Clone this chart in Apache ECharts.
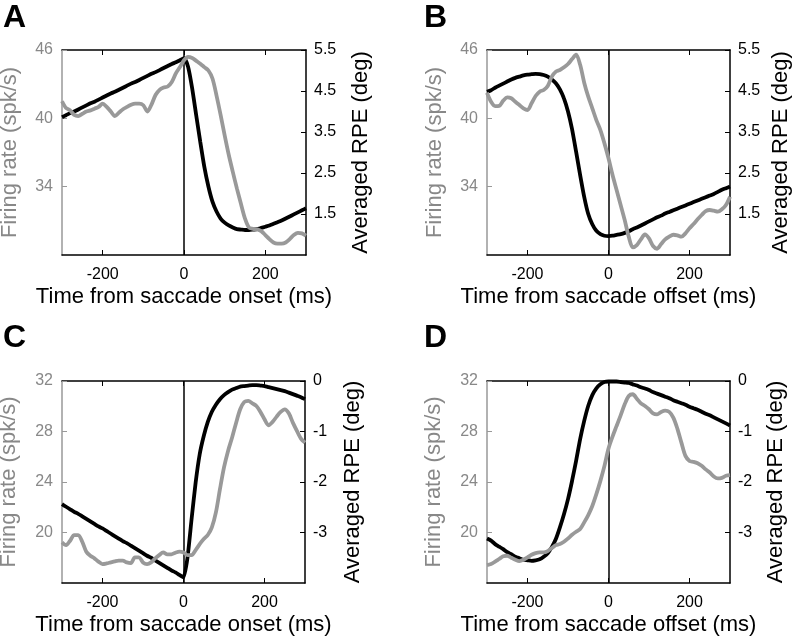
<!DOCTYPE html>
<html><head><meta charset="utf-8">
<script src="https://cdn.jsdelivr.net/npm/echarts@6/dist/echarts.min.js"></script>
<style>html,body{margin:0;padding:0;background:#fff}#c{width:795px;height:640px}</style>
</head><body><div id="c"></div>
<script>
// time axis (ms), 10 ms steps
const times = [-300,-290,-280,-270,-260,-250,-240,-230,-220,-210,-200,-190,-180,-170,-160,-150,-140,-130,-120,-110,-100,-90,-80,-70,-60,-50,-40,-30,-20,-10,0,10,20,30,40,50,60,70,80,90,100,110,120,130,140,150,160,170,180,190,200,210,220,230,240,250,260,270,280,290,300];
const xTicks = [-200, 0, 200];
const frTicksTop = [34, 40, 46];
const rpeTicksTop = [1.5, 2.5, 3.5, 4.5, 5.5];
const frTicksBottom = [20, 24, 28, 32];
const rpeTicksBottom = [-3, -2, -1, 0];

// Panel A (saccade onset)
const frA = [41.5,40.9,40.7,40.3,40.2,40.4,40.6,40.7,40.85,41.0,41.3,41.0,40.6,40.2,40.5,40.8,41.0,41.2,41.3,41.3,41.15,40.6,41.2,42.05,42.5,42.7,42.8,43.2,43.95,44.5,45.1,45.4,45.3,45.05,44.8,44.5,44.2,43.5,42.0,40.3,38.5,36.8,35.3,33.85,32.5,31.2,30.4,30.3,30.25,30.1,29.75,29.4,29.1,29.0,29.0,29.1,29.4,29.75,29.95,29.9,29.7];
const rpeA = [3.86,3.91,3.96,4.00,4.05,4.10,4.15,4.20,4.24,4.29,4.34,4.39,4.44,4.48,4.53,4.58,4.63,4.68,4.72,4.77,4.82,4.87,4.92,4.96,5.01,5.06,5.11,5.16,5.20,5.25,5.30,5.09,4.57,3.91,3.26,2.65,2.17,1.80,1.56,1.39,1.29,1.22,1.17,1.13,1.12,1.11,1.11,1.12,1.13,1.16,1.19,1.22,1.26,1.30,1.34,1.39,1.44,1.49,1.54,1.59,1.64];
// Panel B (saccade offset)
const frB = [42.25,41.46,41.08,41.1,41.55,41.84,41.76,41.46,41.17,40.88,40.73,41.32,41.96,42.34,42.49,42.84,43.66,44.10,44.24,44.48,44.77,45.2,45.6,44.7,43.13,41.9,40.88,39.85,38.97,37.80,36.49,35.02,33.71,32.39,31.07,29.61,28.67,28.87,29.37,29.81,29.46,28.79,28.55,28.96,29.37,29.61,29.78,29.73,29.61,29.90,30.34,30.72,31.13,31.51,31.86,31.95,31.89,31.80,32.01,32.39,33.12];
const rpeB = [4.48,4.52,4.58,4.63,4.68,4.73,4.78,4.82,4.85,4.88,4.90,4.91,4.92,4.91,4.89,4.85,4.78,4.69,4.54,4.32,4.00,3.57,3.02,2.45,1.92,1.50,1.25,1.09,1.01,0.97,0.96,0.97,0.99,1.01,1.04,1.08,1.13,1.17,1.22,1.27,1.32,1.37,1.42,1.46,1.51,1.55,1.59,1.63,1.67,1.71,1.75,1.79,1.83,1.87,1.91,1.95,1.99,2.04,2.09,2.13,2.17];
// Panel C (saccade onset)
const frC = [19.22,19.0,19.35,19.8,19.8,19.27,18.48,18.16,17.95,17.69,17.5,17.55,17.63,17.71,17.77,17.77,17.63,17.58,18.03,18.03,17.63,17.5,17.63,17.95,18.21,18.42,18.27,18.27,18.4,18.48,18.42,18.21,18.21,18.61,19.08,19.48,19.8,20.4,21.59,23.43,25.15,26.46,27.52,28.7,29.76,30.34,30.42,30.23,30.02,29.55,28.97,28.49,28.76,29.18,29.55,29.76,29.44,28.7,28.05,27.44,27.12];
const rpeC = [-2.44,-2.49,-2.54,-2.59,-2.63,-2.68,-2.73,-2.78,-2.83,-2.88,-2.92,-2.97,-3.02,-3.07,-3.12,-3.17,-3.21,-3.26,-3.31,-3.36,-3.41,-3.46,-3.50,-3.55,-3.60,-3.65,-3.70,-3.75,-3.79,-3.84,-3.89,-3.49,-2.73,-2.01,-1.45,-1.09,-0.81,-0.61,-0.47,-0.36,-0.28,-0.22,-0.17,-0.14,-0.11,-0.10,-0.09,-0.08,-0.08,-0.09,-0.10,-0.12,-0.14,-0.16,-0.18,-0.20,-0.23,-0.26,-0.29,-0.32,-0.36];
// Panel D (saccade offset)
const frD = [17.42,17.5,17.69,17.9,18.11,18.16,18.0,17.84,17.74,17.84,18.03,18.24,18.37,18.42,18.42,18.53,18.77,19.0,19.08,19.27,19.53,19.82,20.06,20.27,20.8,21.38,22.1,23.04,24.09,25.28,26.65,27.6,28.44,29.28,30.15,30.81,30.95,30.6,30.23,30.02,29.76,29.44,29.36,29.55,29.65,29.55,29.1,28.23,27.12,26.07,25.67,25.6,25.49,25.28,25.0,24.75,24.43,24.28,24.33,24.49,24.54];
const rpeD = [-3.12,-3.16,-3.23,-3.28,-3.33,-3.39,-3.43,-3.48,-3.51,-3.54,-3.55,-3.56,-3.55,-3.53,-3.48,-3.41,-3.29,-3.13,-2.90,-2.64,-2.34,-1.98,-1.58,-1.15,-0.79,-0.49,-0.28,-0.145,-0.066,-0.02,-0.01,-0.01,-0.01,-0.02,-0.03,-0.04,-0.066,-0.09,-0.125,-0.15,-0.18,-0.22,-0.25,-0.28,-0.31,-0.34,-0.38,-0.41,-0.44,-0.47,-0.51,-0.54,-0.57,-0.61,-0.65,-0.68,-0.72,-0.76,-0.80,-0.84,-0.88];

const FONT = '"Liberation Sans", Arial, Helvetica, sans-serif';
const GRAY = '#999999';
const GRAYTXT = '#888888';
const BLACK = '#000000';

const panels = [
  {letter:'A', lx:3, ly:2, grid:{left:62, top:50, width:244, height:205}, fr:frA, rpe:rpeA, frMin:28, frMax:46, frInt:6, frTicks:frTicksTop, rpeMin:0.5, rpeMax:5.5, rpeInt:1, rpeTicks:rpeTicksTop, xTitle:'Time from saccade onset (ms)', lGap:41, rGap:44},
  {letter:'B', lx:424, ly:2, grid:{left:487, top:50, width:243, height:205}, fr:frB, rpe:rpeB, frMin:28, frMax:46, frInt:6, frTicks:frTicksTop, rpeMin:0.5, rpeMax:5.5, rpeInt:1, rpeTicks:rpeTicksTop, xTitle:'Time from saccade offset (ms)', lGap:41, rGap:40},
  {letter:'C', lx:3, ly:322, grid:{left:62, top:381, width:243, height:202}, fr:frC, rpe:rpeC, frMin:16, frMax:32, frInt:4, frTicks:frTicksBottom, rpeMin:-4, rpeMax:0, rpeInt:1, rpeTicks:rpeTicksBottom, xTitle:'Time from saccade onset (ms)', lGap:42, rGap:37},
  {letter:'D', lx:424, ly:322, grid:{left:487, top:381, width:243, height:202}, fr:frD, rpe:rpeD, frMin:16, frMax:32, frInt:4, frTicks:frTicksBottom, rpeMin:-4, rpeMax:0, rpeInt:1, rpeTicks:rpeTicksBottom, xTitle:'Time from saccade offset (ms)', lGap:42, rGap:35}
];

const option = {animation:false, backgroundColor:'#fff', title:[], grid:[], xAxis:[], yAxis:[], series:[]};

panels.forEach((p, i) => {
  option.title.push({text:p.letter, left:p.lx, top:p.ly, padding:0, textStyle:{fontSize:32, fontWeight:'bold', color:BLACK, fontFamily:FONT}});
  option.grid.push(Object.assign({containLabel:false, outerBoundsMode:'none'}, p.grid));
  // bottom x axis
  option.xAxis.push({type:'value', gridIndex:i, position:'bottom', min:-300, max:300, interval:100,
    axisLine:{show:true, onZero:false, lineStyle:{color:BLACK, width:1.5}},
    axisTick:{show:true, inside:true, length:5, customValues:xTicks, lineStyle:{color:BLACK, width:1}},
    axisLabel:{show:true, customValues:xTicks, color:BLACK, fontSize:16, fontFamily:FONT, margin:12},
    splitLine:{show:false},
    name:p.xTitle, nameLocation:'middle', nameGap:31, nameTextStyle:{fontSize:22, color:BLACK, fontFamily:FONT}});
  // top x axis (box)
  option.xAxis.push({type:'value', gridIndex:i, position:'top', min:-300, max:300, interval:100,
    axisLine:{show:true, onZero:false, lineStyle:{color:BLACK, width:1.5}},
    axisTick:{show:true, inside:true, length:5, customValues:xTicks, lineStyle:{color:BLACK, width:1}},
    axisLabel:{show:false}, splitLine:{show:false}});
  // left: firing rate
  option.yAxis.push({type:'value', gridIndex:i, position:'left', min:p.frMin, max:p.frMax, interval:p.frInt,
    axisLine:{show:true, onZero:false, lineStyle:{color:GRAY, width:1.5}},
    axisTick:{show:true, inside:true, length:5, customValues:p.frTicks, lineStyle:{color:GRAY, width:1}},
    axisLabel:{show:true, customValues:p.frTicks, color:GRAYTXT, fontSize:16, fontFamily:FONT, margin:9},
    splitLine:{show:false},
    name:'Firing rate (spk/s)', nameLocation:'middle', nameRotate:90, nameGap:p.lGap,
    nameTextStyle:{fontSize:22, color:GRAYTXT, fontFamily:FONT}});
  // right: RPE
  option.yAxis.push({type:'value', gridIndex:i, position:'right', min:p.rpeMin, max:p.rpeMax, interval:p.rpeInt,
    axisLine:{show:true, onZero:false, lineStyle:{color:BLACK, width:1.5}},
    axisTick:{show:true, inside:true, length:5, customValues:p.rpeTicks, lineStyle:{color:BLACK, width:1}},
    axisLabel:{show:true, customValues:p.rpeTicks, color:BLACK, fontSize:16, fontFamily:FONT, margin:8},
    splitLine:{show:false},
    name:'Averaged RPE (deg)', nameLocation:'middle', nameRotate:90, nameGap:p.rGap,
    nameTextStyle:{fontSize:22, color:BLACK, fontFamily:FONT}});
  // series
  option.series.push({type:'line', xAxisIndex:2*i, yAxisIndex:2*i+1, z:3,
    data: times.map((t,k)=>[t, p.rpe[k]]), showSymbol:false, symbol:'none', smooth:0.2,
    lineStyle:{color:BLACK, width:3.8}, emphasis:{disabled:true}, silent:true});
  option.series.push({type:'line', xAxisIndex:2*i, yAxisIndex:2*i, z:4,
    data: times.map((t,k)=>[t, p.fr[k]]), showSymbol:false, symbol:'none', smooth:0.3,
    lineStyle:{color:GRAY, width:3.8}, emphasis:{disabled:true}, silent:true,
    markLine:{silent:true, symbol:['none','none'], z:1, animation:false, label:{show:false},
      lineStyle:{color:BLACK, width:1.5, type:'solid'}, emphasis:{disabled:true}, data:[{xAxis:0}]}});
});

const chart = echarts.init(document.getElementById('c'), null, {renderer:'canvas'});
chart.setOption(option);
</script></body></html>
